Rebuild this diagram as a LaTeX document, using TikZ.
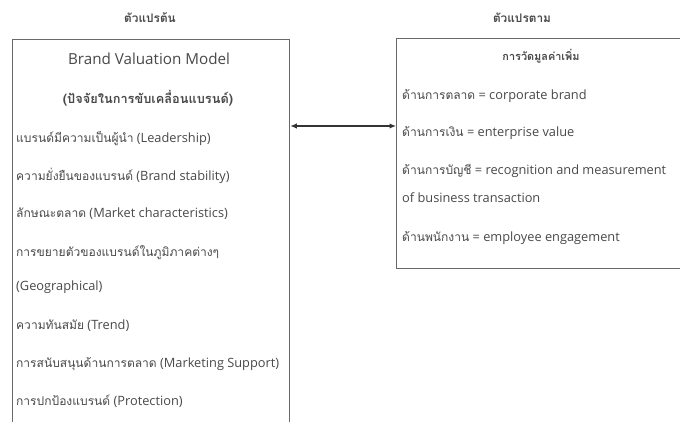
\documentclass[tikz,border=0pt]{standalone}
\usepackage{fontspec}
\setmainfont{Open Sans}
\newfontfamily\thaifont[Script=Thai,Scale=0.94]{Loma}
\newcommand\tht[1]{{\thaifont #1}}
\usetikzlibrary{arrows.meta}
\definecolor{ink}{RGB}{72,72,72}
\definecolor{frame}{RGB}{105,105,105}
\begin{document}
\begin{tikzpicture}[x=1pt,y=-1pt,
  box/.style={draw=frame, line width=1.3pt, anchor=north west, inner sep=0pt},
  item/.style={anchor=west, inner sep=0pt, text=ink, text height=9pt, text depth=3pt,
    font=\fontsize{12.8}{14}\selectfont},
  title/.style={anchor=center, inner sep=0pt, text=ink, text height=9pt, text depth=3pt,
    font=\fontsize{12.6}{14}\selectfont\bfseries},
  model/.style={anchor=center, inner sep=0pt, text=ink, font=\fontsize{15.2}{17}\selectfont},
  link/.style={draw=black!80, line width=1.2pt,
    {Latex[length=6.5pt,width=5.5pt]}-{Latex[length=6.5pt,width=5.5pt]}}]
\useasboundingbox (0,0) rectangle (680,422);
\clip (0,0) rectangle (680,422);

% frames
\node[box, minimum width=277.5pt, minimum height=420pt] (lbox) at (11.5,39) {};
\node[box, minimum width=300pt, minimum height=230pt] (rbox) at (396,38) {};

% column headings
\node[title] (lhead) at (150,20) {\tht{ตัวแปรต้น}};
\node[title] (rhead) at (522,20) {\tht{ตัวแปรตาม}};

% independent variables
\node[model] (model) at (149,59) {Brand Valuation Model};
\node[title, font=\fontsize{13.6}{15}\selectfont\bfseries] (drivers) at (148,101)
  {\tht{(ปัจจัยในการขับเคลื่อนแบรนด์)}};
\node[item] (l1) at (16,140) {\tht{แบรนด์มีความเป็นผู้นำ} (Leadership)};
\node[item] (l2) at (16,178) {\tht{ความยั่งยืนของแบรนด์} (Brand stability)};
\node[item] (l3) at (16,215) {\tht{ลักษณะตลาด} (Market characteristics)};
\node[item] (l4) at (16,254) {\tht{การขยายตัวของแบรนด์ในภูมิภาคต่างๆ}};
\node[item] (l4b) at (16,287) {(Geographical)};
\node[item] (l5) at (16,326) {\tht{ความทันสมัย} (Trend)};
\node[item] (l6) at (16,364) {\tht{การสนับสนุนด้านการตลาด} (Marketing Support)};
\node[item] (l7) at (16,402) {\tht{การปกป้องแบรนด์} (Protection)};

% dependent variables
\node[title, font=\fontsize{11.6}{13}\selectfont\bfseries] (measure) at (541,58)
  {\tht{การวัดมูลค่าเพิ่ม}};
\node[item] (r1) at (402,97) {\tht{ด้านการตลาด} = corporate brand};
\node[item] (r2) at (402,134) {\tht{ด้านการเงิน} = enterprise value};
\node[item] (r3) at (402,172) {\tht{ด้านการบัญชี} = recognition and measurement};
\node[item] (r3b) at (402,200) {of business transaction};
\node[item] (r4) at (402,239) {\tht{ด้านพนักงาน} = employee engagement};

% relation between the two groups
\coordinate (linky) at (0,126);
\draw[link] (lbox.east |- linky) -- (rbox.west |- linky);
\end{tikzpicture}
\end{document}
